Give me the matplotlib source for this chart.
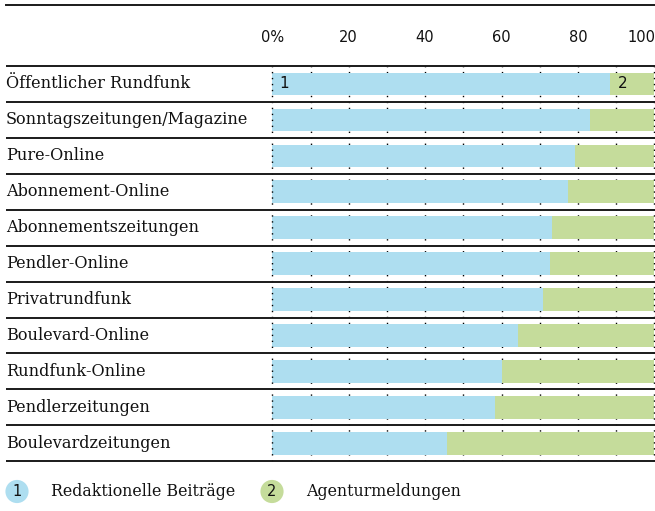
import matplotlib.pyplot as plt
import matplotlib.transforms as mtransforms

# Daten
kategorien = ['Öffentlicher Rundfunk', 'Sonntagszeitungen/Magazine', 'Pure-Online',
              'Abonnement-Online', 'Abonnementszeitungen', 'Pendler-Online',
              'Privatrundfunk', 'Boulevard-Online', 'Rundfunk-Online',
              'Pendlerzeitungen', 'Boulevardzeitungen']
redaktionell = [88.4, 83.2, 79.2, 77.4, 73.2, 72.7, 70.9, 64.3, 60.1, 58.3, 45.7]
agentur = [100 - v for v in redaktionell]
ticks = [0, 20, 40, 60, 80, 100]
tick_labels = ['0%', '20', '40', '60', '80', '100']
legende = ['Redaktionelle Beiträge', 'Agenturmeldungen']

blau = '#aedef0'
gruen = '#c5dc9b'
serif = 'DejaVu Serif'
sans = 'DejaVu Sans'

W, H = 655, 511
fig = plt.figure(figsize=(W / 100, H / 100), dpi=100)
x0, x1 = 272.3, 654.3
y0, y1 = 66, 461.3
ax = fig.add_axes([x0 / W, 1 - y1 / H, (x1 - x0) / W, (y1 - y0) / H])

n = len(kategorien)
pos = [i + 0.5 for i in range(n)]
bh = 0.63

# gepunktete Rasterlinien
for t in range(10, 100, 10):
    ax.axvline(t, color='black', lw=1.0, ls=(0, (1, 3.3)), zorder=0)
for t in (0, 100):
    ax.axvline(t, color='black', lw=1.0, ls=(0, (1, 3.3)), zorder=3, clip_on=False)

ax.barh(pos, redaktionell, height=bh, color=blau, zorder=2)
ax.barh(pos, agentur, left=redaktionell, height=bh, color=gruen, zorder=2)

ax.set_xlim(0, 100)
ax.set_ylim(n, 0)
for s in ax.spines.values():
    s.set_visible(False)
ax.set_yticks([])
ax.set_xticks(ticks)
ax.set_xticklabels(tick_labels, fontsize=10.5, family=sans, color='#111111')
ax.tick_params(axis='x', top=True, labeltop=True, bottom=False, labelbottom=False,
               length=0, pad=14.8)
# letzte Beschriftung etwas nach links
lab = ax.get_xticklabels()[-1]
lab.set_transform(lab.get_transform() + mtransforms.ScaledTranslation(-13 / 100, 0, fig.dpi_scale_trans))

trans = mtransforms.blended_transform_factory(ax.transAxes, ax.transData)
left_ax = (5.7 - x0) / (x1 - x0)
right_ax = (655 - x0) / (x1 - x0)
for i in range(n + 1):
    ax.plot([left_ax, right_ax], [i, i], transform=trans, color='#1a1a1a', lw=1.4,
            clip_on=False, zorder=4, solid_capstyle='butt')
for i, k in enumerate(kategorien):
    ax.text((6 - x0) / (x1 - x0), pos[i], k, transform=trans, ha='left', va='center',
            fontsize=11.6, family=serif, color='#111111')

# Nummern im ersten Balken
ax.annotate('1', (0, pos[0]), xytext=(5, 0), textcoords='offset points', va='center',
            fontsize=11, family=sans, color='#111111', zorder=5)
ax.annotate('2', (redaktionell[0], pos[0]), xytext=(5.5, 0), textcoords='offset points',
            va='center', fontsize=11, family=sans, color='#111111', zorder=5)

# obere Linie
fig.add_artist(plt.Line2D([5.7 / W, 1], [1 - 5 / H, 1 - 5 / H], color='#1a1a1a', lw=1.4))

# Legende
ly = 1 - 491.5 / H
for num, cx, tx, txt, col in [('1', 17, 50.7, legende[0], blau), ('2', 272, 306, legende[1], gruen)]:
    fig.text(cx / W, ly, num, ha='center', va='center', fontsize=10.5, family=sans,
             color='#111111', bbox=dict(boxstyle='circle,pad=0.28', fc=col, ec='none'))
    fig.text(tx / W, ly, txt, ha='left', va='center', fontsize=11.4, family=serif,
             color='#111111')

fig.savefig('out.png', dpi=100)
